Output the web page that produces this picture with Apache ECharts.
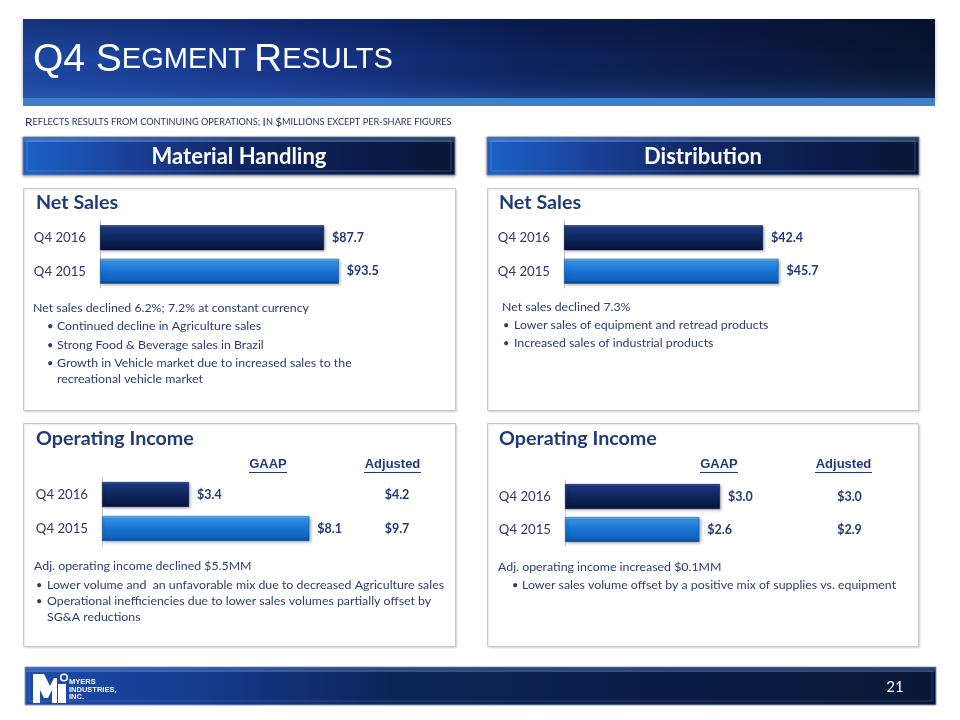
<!DOCTYPE html>
<html>
<head>
<meta charset="utf-8">
<script src="https://cdn.jsdelivr.net/npm/echarts@6/dist/echarts.min.js"></script>
<style>
html,body{margin:0;padding:0;background:#fff;}
#chart{width:960px;height:720px;}
</style>
</head>
<body>
<div id="chart"></div>
<script>
// ---- data ----
const categories = ['Q4 2016', 'Q4 2015'];
const mhNetSales = [87.7, 93.5];
const distNetSales = [42.4, 45.7];
const mhOpIncomeGaap = [3.4, 8.1];
const mhOpIncomeAdj = [4.2, 9.7];
const distOpIncomeGaap = [3.0, 2.6];
const distOpIncomeAdj = [3.0, 2.9];

const mhSalesNotes = ['Continued decline in Agriculture sales', 'Strong Food & Beverage sales in Brazil', 'Growth in Vehicle market due to increased sales to the', 'recreational vehicle market'];
const distSalesNotes = ['Lower sales of equipment and retread products', 'Increased sales of industrial products'];
const mhOiNotes = ['Lower volume and  an unfavorable mix due to decreased Agriculture sales', 'Operational inefficiencies due to lower sales volumes partially offset by', 'SG&A reductions'];
const distOiNotes = ['Lower sales volume offset by a positive mix of supplies vs. equipment'];

// ---- styles ----
const BODY = 'Lato, "Open Sans", sans-serif';
const ARIAL = '"Liberation Sans", Arial, sans-serif';
const NAVY = '#1f3a7a';
const TXT = '#2a3d6e';

function lg(x, y, x2, y2, stops) {
  return { type: 'linear', x: x, y: y, x2: x2, y2: y2, colorStops: stops.map(s => ({ offset: s[0], color: s[1] })) };
}
const darkBar = lg(0, 0, 0, 1, [[0, '#40609f'], [0.1, '#1c3780'], [0.45, '#10275f'], [0.85, '#0a1a48'], [1, '#051035']]);
const lightBar = lg(0, 0, 0, 1, [[0, '#8fd0fb'], [0.1, '#3592e4'], [0.45, '#1a76d4'], [0.85, '#1062bd'], [1, '#0a4890']]);
const barColors = [darkBar, lightBar];

function barData(vals) {
  return vals.map((v, i) => ({
    value: v,
    itemStyle: {
      color: barColors[i], borderColor: i === 0 ? '#0a1a44' : '#0b5aa8', borderWidth: 0.6,
      shadowColor: 'rgba(0,0,0,0.35)', shadowBlur: 3, shadowOffsetX: 1.5, shadowOffsetY: 1.5
    }
  }));
}

const grids = [
  { left: 100, top: 221, width: 255.4, height: 67 },
  { left: 564, top: 221, width: 234.7, height: 67 },
  { left: 102, top: 477.5, width: 256, height: 68 },
  { left: 565, top: 480, width: 206.7, height: 66 }
];
const maxes = [100, 50, 10, 4];
const seriesVals = [mhNetSales, distNetSales, mhOpIncomeGaap, distOpIncomeGaap];

const xAxes = grids.map((g, i) => ({ type: 'value', gridIndex: i, min: 0, max: maxes[i], show: false }));
const yAxes = grids.map((g, i) => ({
  type: 'category', gridIndex: i, data: categories, inverse: true,
  axisLine: { show: true, lineStyle: { color: '#c4c4c4', width: 1 } },
  axisTick: { show: false },
  axisLabel: { margin: 14, color: '#2b3a66', fontSize: 13.2, fontFamily: BODY }
}));
const series = seriesVals.map((vals, i) => ({
  type: 'bar', xAxisIndex: i, yAxisIndex: i, data: barData(vals), barWidth: 25,
  label: {
    show: true, position: 'right', distance: 8, color: NAVY, fontSize: 12.5, fontWeight: 'bold', fontFamily: BODY,
    formatter: p => '$' + p.value.toFixed(1)
  },
  silent: true, animation: false
}));

// ---- graphics ----
const G = [];
function rect(x, y, w, h, style, z) { G.push({ type: 'rect', shape: { x: x, y: y, width: w, height: h }, style: style, z: z || 0, silent: true }); }
function text(x, y, t, s, z) {
  G.push({ type: 'text', x: x, y: y, style: Object.assign({ text: t, verticalAlign: 'middle', align: 'left' }, s), z: z || 5, silent: true });
}
function line(x1, y1, x2, y2, stroke, w, z) { G.push({ type: 'line', shape: { x1: x1, y1: y1, x2: x2, y2: y2 }, style: { stroke: stroke, lineWidth: w || 1 }, z: z || 5, silent: true }); }

// header banner
rect(23, 19, 912, 80, { fill: lg(0, 0, 1, 0, [[0, '#1d4aa6'], [0.3, '#17378f'], [0.55, '#0d2460'], [0.8, '#0a1c48'], [1, '#071632']]), shadowColor: 'rgba(0,0,0,0.3)', shadowBlur: 4, shadowOffsetY: 2 });
rect(23, 19, 912, 80, { fill: lg(0, 0, 0, 1, [[0, 'rgba(0,10,40,0.35)'], [0.5, 'rgba(0,0,0,0)'], [1, 'rgba(70,130,230,0.25)']]) }, 1);
rect(23, 98, 912, 8, { fill: '#3f7fc9' }, 1);
text(33, 60, '{a|Q4 S}{b|EGMENT }{a|R}{b|ESULTS}', {
  fill: '#fff', rich: {
    a: { fontFamily: ARIAL, fontSize: 39, fill: '#fff' },
    b: { fontFamily: ARIAL, fontSize: 29, fill: '#fff' }
  }
}, 6);

// subtitle
text(25, 122, '{a|R}{b|EFLECTS RESULTS FROM CONTINUING OPERATIONS; }{a|I}{b|N }{a|$}{b|MILLIONS EXCEPT PER-SHARE FIGURES}', {
  fill: '#1f2d5c', rich: {
    a: { fontFamily: BODY, fontSize: 11.8, fill: '#1f2d5c' },
    b: { fontFamily: BODY, fontSize: 9.2, fill: '#1f2d5c' }
  }
});

// section bars
function sectionBar(x, w, label) {
  rect(x, 137, w, 38, { fill: lg(0, 0, 1, 0, [[0, '#1c63c8'], [0.25, '#1a3f96'], [0.5, '#0e2662'], [0.8, '#0a1d4a'], [1, '#061534']]), stroke: '#7e8fa8', lineWidth: 1, shadowColor: 'rgba(0,0,0,0.3)', shadowBlur: 3, shadowOffsetY: 1 }, 1);
  rect(x + 4, 141, w - 8, 30, { fill: 'none', stroke: 'rgba(140,170,220,0.35)', lineWidth: 1 }, 2);
  rect(x + 1, 138, w - 2, 4, { fill: 'rgba(150,190,255,0.25)' }, 2);
  text(x + w / 2, 157, label, { align: 'center', fill: '#fff', fontFamily: BODY, fontSize: 22, fontWeight: 'bold' }, 6);
}
sectionBar(23, 432, 'Material Handling');
sectionBar(487, 432, 'Distribution');

// panels
function panel(x, y, w, h) {
  rect(x, y, w, h, { fill: '#fff', stroke: '#c8c8c8', lineWidth: 1, shadowColor: 'rgba(0,0,0,0.12)', shadowBlur: 2, shadowOffsetX: 1, shadowOffsetY: 1 }, -1);
}
panel(23.5, 188.5, 432, 222);
panel(487.5, 188.5, 431, 222);
panel(23.5, 423.5, 432, 223);
panel(487.5, 423.5, 431, 223);

const titleStyle = { fill: NAVY, fontFamily: BODY, fontSize: 19.7, fontWeight: 'bold' };
text(36, 203, 'Net Sales', titleStyle);
text(499, 203, 'Net Sales', titleStyle);
text(36, 439, 'Operating Income', titleStyle);
text(499, 439, 'Operating Income', titleStyle);

const bodyStyle = { fill: TXT, fontFamily: BODY, fontSize: 12.35 };
function bullets(bx, tx, ys, lines, bulletMask) {
  lines.forEach((l, i) => {
    if (bulletMask[i]) text(bx, ys[i], '•', Object.assign({}, bodyStyle, { fontSize: 11 }));
    text(tx, ys[i], l, bodyStyle);
  });
}
text(33, 308, 'Net sales declined 6.2%; 7.2% at constant currency', bodyStyle);
bullets(47, 57, [326, 345, 363, 379], mhSalesNotes, [1, 1, 1, 0]);
text(502, 307, 'Net sales declined 7.3%', bodyStyle);
bullets(503, 514, [325, 343], distSalesNotes, [1, 1]);
text(34, 566, 'Adj. operating income declined $5.5MM', bodyStyle);
bullets(36, 47, [585, 601, 617], mhOiNotes, [1, 1, 0]);
text(498, 567, 'Adj. operating income increased $0.1MM', bodyStyle);
bullets(512, 522, [585], distOiNotes, [1]);

// GAAP / Adjusted column headers
const hdr = { fill: NAVY, fontFamily: ARIAL, fontSize: 13, fontWeight: 'bold', align: 'center' };
text(268, 464, 'GAAP', hdr);
text(392.5, 464, 'Adjusted', hdr);
text(719, 464, 'GAAP', hdr);
text(843.5, 464, 'Adjusted', hdr);
line(249, 472.5, 287, 472.5, NAVY, 1);
line(364, 472.5, 421, 472.5, NAVY, 1);
line(700, 472.5, 738, 472.5, NAVY, 1);
line(815, 472.5, 872, 472.5, NAVY, 1);

// footer
rect(25, 667, 911, 38, { fill: lg(0, 0, 1, 0, [[0, '#1c4cab'], [0.2, '#153a8c'], [0.4, '#0c2559'], [0.7, '#0a1d47'], [1, '#081838']]), stroke: '#8a9ab5', lineWidth: 1 }, 1);
rect(29, 671, 903, 30, { fill: 'none', stroke: 'rgba(120,150,210,0.3)', lineWidth: 1 }, 2);
rect(26, 668, 909, 4, { fill: 'rgba(150,190,255,0.22)' }, 2);
text(895, 687, '21', { align: 'center', fill: '#fff', fontFamily: BODY, fontSize: 15 }, 6);
// logo
G.push({ type: 'polygon', shape: { points: [[33, 674], [44, 674], [50, 686], [54, 678], [57, 678], [57, 703], [52, 703], [52, 690], [48, 698], [44, 698], [40, 690], [40, 703], [33, 703]] }, style: { fill: '#fff' }, z: 6, silent: true });
G.push({ type: 'rect', shape: { x: 58, y: 684, width: 8, height: 19 }, style: { fill: '#fff' }, z: 6, silent: true });
G.push({ type: 'circle', shape: { cx: 64, cy: 677.5, r: 3.3 }, style: { fill: 'none', stroke: '#fff', lineWidth: 1.6 }, z: 6, silent: true });
const logoT = { fill: '#fff', fontFamily: ARIAL, fontSize: 7.5, fontWeight: 'bold' };
text(69, 682, 'MYERS', logoT, 6);
text(69, 689.5, 'INDUSTRIES,', logoT, 6);
text(69, 697, 'INC.', logoT, 6);

const chart = echarts.init(document.getElementById('chart'), null, { renderer: 'canvas' });
chart.setOption({
  backgroundColor: '#fff',
  animation: false,
  grid: grids,
  xAxis: xAxes,
  yAxis: yAxes,
  series: series,
  graphic: G
});

// adjusted values placed on the category rows of the operating income axes
const adjStyle = { fill: NAVY, fontFamily: BODY, fontSize: 12.5, fontWeight: 'bold', align: 'center' };
[[2, mhOpIncomeAdj, 397], [3, distOpIncomeAdj, 849.5]].forEach(([ai, vals, cx]) => {
  vals.forEach((v, i) => {
    const y = chart.convertToPixel({ yAxisIndex: ai }, categories[i]);
    text(cx, y, '$' + v.toFixed(1), adjStyle, 6);
  });
});
chart.setOption({ graphic: G });
</script>
</body>
</html>
